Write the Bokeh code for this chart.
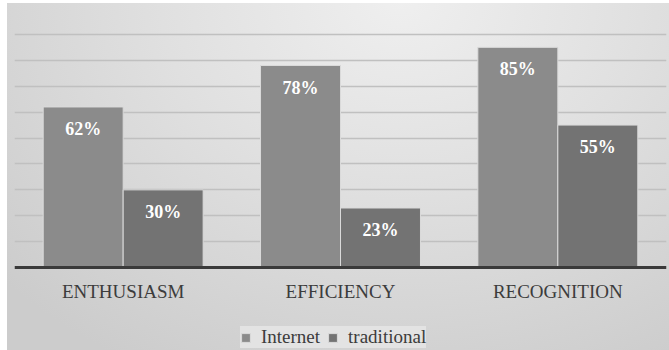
from bokeh.plotting import figure
from bokeh.models import (FactorRange, ColumnDataSource, LabelSet, Legend,
                          LegendItem, FixedTicker, Span)
from bokeh.transform import dodge
from bokeh.embed import file_html
from bokeh.resources import INLINE

categories = ["ENTHUSIASM", "EFFICIENCY", "RECOGNITION"]
series_names = ["Internet", "traditional"]
internet = [62, 78, 85]
traditional = [30, 23, 55]
grid_ticks = [10, 20, 30, 40, 50, 60, 70, 80, 90]

SERIF = "Liberation Serif"

src = ColumnDataSource(dict(
    cat=categories,
    internet=internet,
    traditional=traditional,
    internet_lbl=[f"{v}%" for v in internet],
    traditional_lbl=[f"{v}%" for v in traditional],
))

# frame covers the whole lower band so that labels and legend sit inside it
p = figure(x_range=FactorRange(*categories), y_range=(-32, 100),
           width=669, height=350, output_backend="svg", toolbar_location=None,
           x_axis_location=None, y_axis_location=None,
           min_border_left=14, min_border_right=3, min_border_top=8,
           min_border_bottom=0)

p.styles = {"background": "linear-gradient(to right, #ffffff 7px, rgba(255,255,255,0) 7px), "
                          "linear-gradient(to bottom, #ffffff 3px, rgba(255,255,255,0) 3px), "
                          "radial-gradient(ellipse 80% 120% at 60% 0%, #efefef 0%, #e0e0e0 45%, #cccccc 100%)"}
p.background_fill_alpha = 0
p.border_fill_alpha = 0
p.outline_line_color = None

p.xgrid.visible = False
p.ygrid.ticker = FixedTicker(ticks=grid_ticks)
p.ygrid.grid_line_color = "#c0c0c0"
p.ygrid.grid_line_width = 1.5

bw = 0.368
c_int = "#8b8b8b"
c_trad = "#737373"
r1 = p.vbar(x=dodge("cat", -bw / 2, range=p.x_range), top="internet", width=bw,
            source=src, fill_color=c_int, line_color="#dadada", line_width=1)
r2 = p.vbar(x=dodge("cat", bw / 2, range=p.x_range), top="traditional", width=bw,
            source=src, fill_color=c_trad, line_color="#dadada", line_width=1)

for col, off in (("internet", -bw / 2), ("traditional", bw / 2)):
    p.add_layout(LabelSet(x=dodge("cat", off, range=p.x_range), y=col,
                          text=col + "_lbl", source=src, y_offset=-22,
                          text_align="center", text_baseline="middle",
                          text_font=SERIF, text_font_style="bold",
                          text_font_size="18px", text_color="#ffffff"))

# baseline (category axis line)
p.add_layout(Span(location=0, dimension="width", line_color="#3a3a3a",
                  line_width=3))

# category labels under the baseline
p.add_layout(LabelSet(x="cat", y=0, text="cat", source=src, y_offset=-24,
                      text_align="center", text_baseline="middle",
                      text_font=SERIF, text_font_size="19px",
                      text_color="#3c3c3c"))

legend = Legend(items=[LegendItem(label=series_names[0], renderers=[r1]),
                       LegendItem(label=series_names[1], renderers=[r2])],
                orientation="horizontal", location=(226, 2),
                label_text_font=SERIF, label_text_font_size="19px",
                label_text_color="#3c3c3c", background_fill_color="#e3e3e3",
                background_fill_alpha=1, border_line_color=None,
                glyph_width=11, glyph_height=11, label_standoff=10, spacing=7,
                padding=7, margin=0)
p.add_layout(legend, "center")

open("out.html", "w").write(file_html(p, INLINE))
